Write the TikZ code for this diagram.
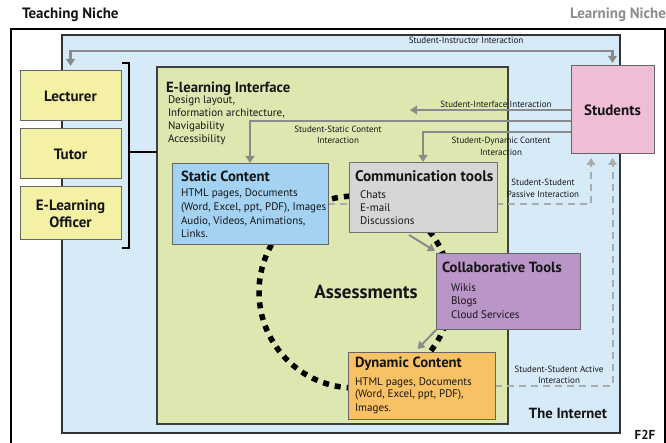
\documentclass[tikz,border=0pt]{standalone}
\usepackage{fontspec}
\setmainfont{PT Sans}
\usetikzlibrary{arrows.meta,calc}
\pgfdeclarelayer{back}
\pgfdeclarelayer{mid}
\pgfsetlayers{back,mid,main}
\definecolor{internetc}{HTML}{D7EAF8}
\definecolor{ifacec}{HTML}{DCE8B0}
\definecolor{yelc}{HTML}{F4F0A4}
\definecolor{pinkc}{HTML}{F0BDD6}
\definecolor{statc}{HTML}{A3D2F2}
\definecolor{commc}{HTML}{D6D6D6}
\definecolor{collc}{HTML}{BA95C7}
\definecolor{dync}{HTML}{F8C264}
\definecolor{arrowgray}{HTML}{8A8A8A}
\definecolor{dashgray}{HTML}{ABABAB}
\definecolor{inkc}{HTML}{151515}
\begin{document}
\begin{tikzpicture}[x=1pt,y=-1pt,
  every node/.style={inner sep=0pt,outer sep=0pt,text=inkc},
  boxnode/.style={draw=#1,line width=1pt,rectangle},
  ttl/.style={font=\bfseries\fontsize{14.7}{16}\selectfont,anchor=base west},
  bigttl/.style={font=\bfseries\fontsize{15}{17}\selectfont},
  bodytxt/.style={font=\fontsize{11}{13}\selectfont,anchor=base west},
  lbl/.style={font=\fontsize{9}{11.5}\selectfont,align=center},
  garrow/.style={draw=arrowgray,line width=2.4pt,-{Triangle[length=7pt,width=8.5pt]}},
  gdash/.style={draw=dashgray,line width=2pt,dash pattern=on 7pt off 5pt,-{Triangle[length=7pt,width=8.5pt]}},
  assess/.style={draw=black,line width=5.5pt,dash pattern=on 6pt off 6pt}
]
\useasboundingbox (0,0) rectangle (666,443);
\begin{pgfonlayer}{back}
\node[draw=black,line width=1.8pt,minimum width=654pt,minimum height=440pt] (outer) at (338,249) {};
\node[draw=black!80,fill=internetc,line width=1.8pt,minimum width=558pt,minimum height=398pt] (internet) at (341,234) {};
\node[draw=black!75,fill=ifacec,line width=1.5pt,minimum width=351pt,minimum height=357pt] (iface) at (332.5,245.5) {};
\end{pgfonlayer}

% top labels
\node[bigttl,anchor=base west] (teach) at (22,19) {Teaching Niche};
\node[bigttl,anchor=base east,text=black!45] (learn) at (666,19) {Learning Niche};

% teaching side boxes
\node[boxnode=black!60,fill=yelc,minimum width=101pt,minimum height=50pt,bigttl] (lect) at (70.5,96) {Lecturer};
\node[boxnode=black!60,fill=yelc,minimum width=101pt,minimum height=50pt,bigttl] (tutor) at (70.5,154) {Tutor};
\node[boxnode=black!60,fill=yelc,minimum width=101pt,minimum height=53pt,font=\bfseries\fontsize{15}{17}\selectfont,align=center] (officer) at (70.5,213.5) {E-Learning\\Officer};
\draw[black,line width=2pt] (122,63) -- (129,63) -- (129,248) -- (122,248);
\coordinate (brk) at (129,152);
\draw[black,line width=2pt] (brk) -- (brk -| iface.west);

% students
\node[boxnode=black!60,fill=pinkc,minimum width=83pt,minimum height=88pt,bigttl] (stud) at (612.5,110) {Students};

% interface text
\node[ttl] (ifacet) at (166,92.6) {E-learning Interface};
\node[bodytxt] (if1) at (168,103.6) {Design layout,};
\node[bodytxt] (if2) at (168,116.6) {Information architecture,};
\node[bodytxt] (if3) at (168,129.6) {Navigability};
\node[bodytxt] (if4) at (168,142.6) {Accessibility};

% content boxes
\node[boxnode=black!60,fill=statc,minimum width=156pt,minimum height=81pt] (static) at (250,204.5) {};
\node[boxnode=black!55,fill=commc,minimum width=148pt,minimum height=70pt] (comm) at (423,198) {};
\node[boxnode=black!60,fill=collc,minimum width=144pt,minimum height=75pt] (collab) at (508,291.5) {};
\node[boxnode=black!60,fill=dync,minimum width=147pt,minimum height=67pt] (dyn) at (421.5,385.5) {};

\node[ttl] (statict) at (181,181.6) {Static Content};
\node[bodytxt] (st1) at (181,196.6) {HTML pages, Documents};
\node[bodytxt] (st2) at (181,210.6) {(Word, Excel, ppt, PDF), Images};
\node[bodytxt] (st3) at (181,224.6) {Audio, Videos, Animations,};
\node[bodytxt] (st4) at (181,237.6) {Links.};

\node[ttl,font=\bfseries\fontsize{15.3}{17}\selectfont] (commt) at (355,181.6) {Communication tools};
\node[bodytxt] (cm1) at (360,198.6) {Chats};
\node[bodytxt] (cm2) at (360,211.6) {E-mail};
\node[bodytxt] (cm3) at (360,224.6) {Discussions};

\node[ttl] (collabt) at (442,272.6) {Collaborative Tools};
\node[bodytxt] (cl1) at (451,291.6) {Wikis};
\node[bodytxt] (cl2) at (451,304.6) {Blogs};
\node[bodytxt] (cl3) at (451,318.6) {Cloud Services};

\node[ttl] (dynt) at (355,367.6) {Dynamic Content};
\node[bodytxt] (dy1) at (355,385.6) {HTML pages, Documents};
\node[bodytxt] (dy2) at (355,397.6) {(Word, Excel, ppt, PDF),};
\node[bodytxt] (dy3) at (355,411.6) {Images.};

\node[font=\bfseries\fontsize{19}{22}\selectfont] (assesst) at (366,292) {Assessments};
\node[font=\bfseries\fontsize{14.7}{16}\selectfont] (inet) at (568,413) {The Internet};
\node[font=\bfseries\fontsize{13}{15}\selectfont] (f2f) at (645,435) {F2F};

% circle and dashed lines behind boxes
\begin{pgfonlayer}{mid}
\coordinate (acen) at (355,292);
\draw[assess] (acen) circle[radius=96pt];
\draw[gdash,shorten >=4pt] (static.east) -- (static.east -| 591,0) -- ($(stud.south)+(-21.5,0)$);
\draw[gdash,shorten >=4pt] (dyn.east) -| (stud.south);
\end{pgfonlayer}

% interaction arrows
\draw[garrow,{Triangle[length=7pt,width=8.5pt]}-{Triangle[length=7pt,width=8.5pt]},shorten <=5pt,shorten >=3pt] (lect.north) -- ++(0,-20) -| (stud.north);
\node[lbl] (l1) at (466,40) {Student-Instructor Interaction};
\coordinate (ifend) at (410,110);
\draw[garrow] (stud.west) -- (ifend);
\node[lbl] (l2) at (496,104) {Student-Interface Interaction};
\draw[garrow,shorten >=1pt] ($(stud.west)+(0,11)$) -| (static.north);
\node[lbl] (l3) at (338,135) {Student-Static Content\\Interaction};
\draw[garrow,shorten >=1pt] ($(stud.west)+(0,22)$) -| (comm.north);
\node[lbl] (l4) at (501,146.5) {Student-Dynamic Content\\Interaction};
\node[lbl] (l5) at (543,188.5) {Student-Student\\Passive Interaction};
\node[lbl] (l6) at (559,375) {Student-Student Active\\Interaction};
\draw[garrow,line width=2pt] ($(comm.south west)+(60,2)$) -- ($(collab.north west)+(-1,-3)$);
\draw[garrow,line width=2pt] ($(collab.south west)+(0,1)$) -- ($(dyn.north)+(-4,-3)$);
\end{tikzpicture}
\end{document}
